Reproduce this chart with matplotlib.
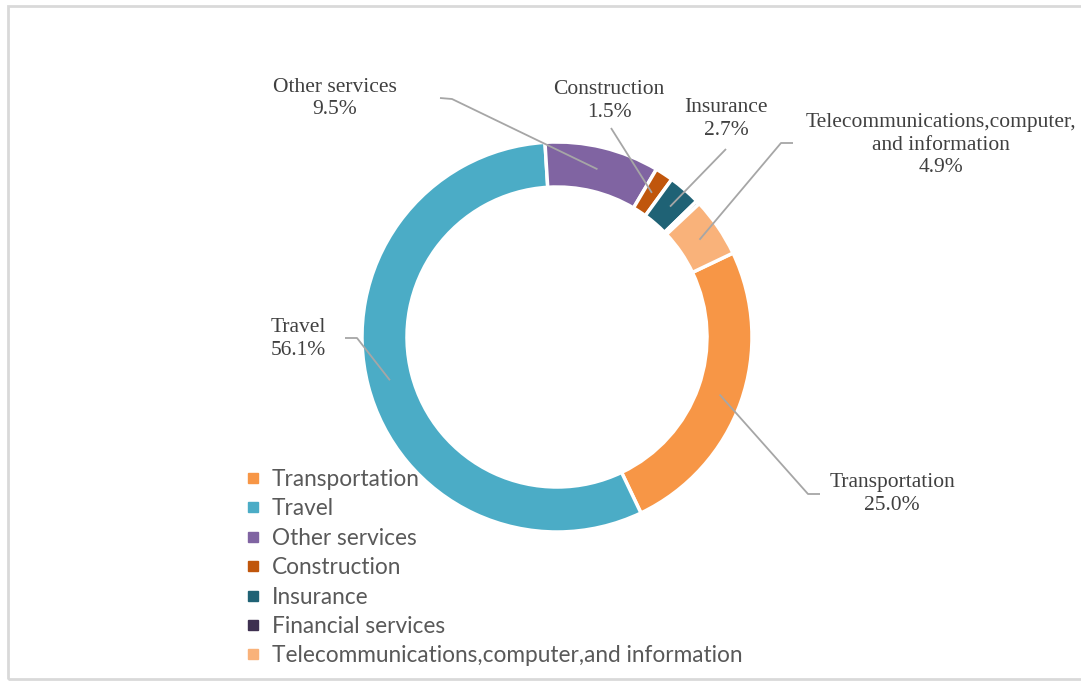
import numpy as np
import matplotlib
matplotlib.use("Agg")
import matplotlib.pyplot as plt
from matplotlib.lines import Line2D
from matplotlib.patches import Rectangle

# Services trade composition (share of total, %)
categories = [
    "Transportation",
    "Travel",
    "Other services",
    "Construction",
    "Insurance",
    "Financial services",
    "Telecommunications,computer,and information",
]
shares = [25.0, 56.1, 9.5, 1.5, 2.7, 0.3, 4.9]
colors = ["#F79646", "#4BACC6", "#8064A2", "#C0560C", "#1F6275", "#3E3050", "#F9B27A"]

W, H = 1081, 682
fig = plt.figure(figsize=(W / 100, H / 100), dpi=100)
ax = fig.add_axes([0, 0, 1, 1])
ax.set_xlim(0, W)
ax.set_ylim(0, H)


def py(y):
    """Convert a top-down pixel row to the axes' bottom-up coordinate."""
    return H - y


# chart-area border
ax.add_patch(Rectangle((8, py(679)), W + 20, 673, fill=False,
                       edgecolor="#d9d9d9", linewidth=2.0, zorder=0))

cx, cy, R, ring = 557, py(337), 195, 45
wedges, _ = ax.pie(shares, colors=colors, startangle=25.5, counterclock=False,
                   radius=R, center=(cx, cy), frame=True,
                   wedgeprops=dict(width=ring, edgecolor="white", linewidth=2.5))
ax.set_xlim(0, W)
ax.set_ylim(0, H)
ax.set_aspect("equal")
ax.axis("off")

# data labels: (text centre, leader path points, which end the path starts from)
label_font = dict(family=["Liberation Serif", "DejaVu Serif"], size=15.5, color="#404040")
label_layout = {
    "Other services": ((335, 98.5), [(440, 98), (452, 99)], "start"),
    "Construction": ((609, 101), [(611, 128)], "start"),
    "Insurance": ((726, 119), [(726, 149)], "start"),
    "Telecommunications,computer,and information": ((941, 145), [(793, 143), (781, 143)], "start"),
    "Transportation": ((892, 494), [(808, 494), (820, 494)], "end"),
    "Travel": ((298, 339), [(345, 338), (357, 338)], "start"),
}

for w, name, val in zip(wedges, categories, shares):
    if name not in label_layout:
        continue
    (tx, ty), pts, side = label_layout[name]
    mid = np.deg2rad((w.theta1 + w.theta2) / 2)
    ax_pt = (cx + 0.885 * R * np.cos(mid), cy + 0.885 * R * np.sin(mid))
    path = [(x, py(y)) for x, y in pts]
    path = path + [ax_pt] if side == "start" else [ax_pt] + path
    xs, ys = zip(*path)
    ax.plot(xs, ys, color="#a6a6a6", linewidth=1.3, zorder=5, solid_capstyle="butt")
    txt = name.replace("computer,and", "computer,\nand")
    ax.text(tx, py(ty), f"{txt}\n{val:.1f}%", ha="center", va="center",
            linespacing=1.22, zorder=6, **label_font)

# legend
handles = [Line2D([], [], linestyle="none", marker="s", markersize=7.2,
                  markerfacecolor=c, markeredgecolor=c) for c in colors]
leg = ax.legend(handles, categories, loc="upper left",
                bbox_to_anchor=(244, py(469)), bbox_transform=ax.transData,
                frameon=False, borderpad=0, borderaxespad=0, handlelength=0.8,
                handletextpad=0.42, labelspacing=0.37,
                prop=dict(family=["Lato", "DejaVu Sans"], size=16.3))
for t in leg.get_texts():
    t.set_color("#595959")

fig.savefig("out.png", dpi=100, facecolor="white")
